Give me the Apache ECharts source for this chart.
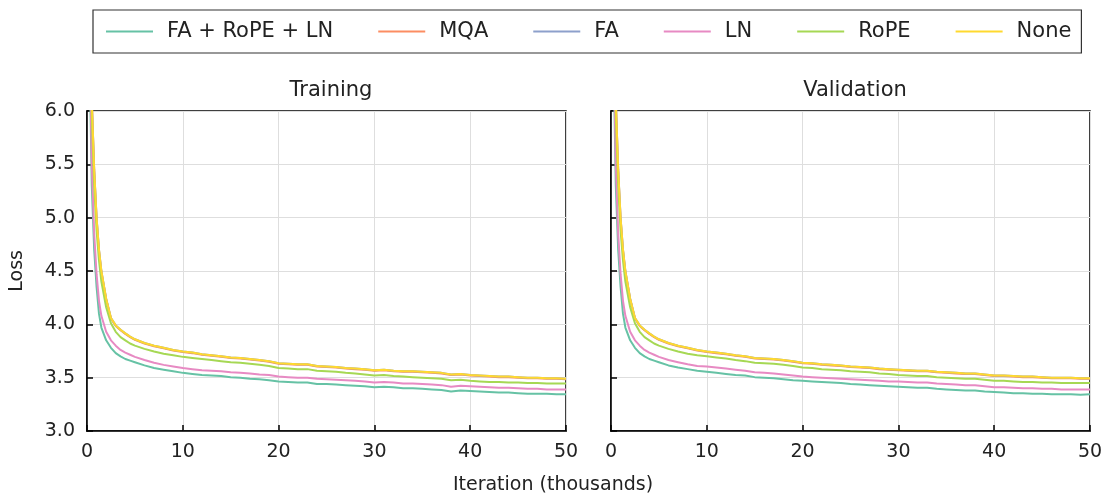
<!DOCTYPE html>
<html>
<head>
<meta charset="utf-8">
<script src="https://cdn.jsdelivr.net/npm/echarts@6/dist/echarts.min.js"></script>
<style>
  html, body { margin: 0; padding: 0; background: #fff; }
  #chart { width: 1106px; height: 498px; }
</style>
</head>
<body>
<div id="chart"></div>
<script>
// iteration, thousands
const iters = [0, 0.25, 0.5, 0.75, 1, 1.25, 1.5, 2, 2.5, 3, 3.5, 4, 4.5, 5,
  6, 7, 8, 9, 10, 11, 12, 13, 14, 15, 16, 17, 18, 19, 20,
  21, 22, 23, 24, 25, 26, 27, 28, 29, 30, 31, 32, 33, 34, 35,
  36, 37, 38, 39, 40, 41, 42, 43, 44, 45, 46, 47, 48, 49, 50];

const seriesNames = ['FA + RoPE + LN', 'MQA', 'FA', 'LN', 'RoPE', 'None'];
const colors = ['#66c2a5', '#fc8d62', '#8da0cb', '#e78ac3', '#a6d854', '#ffd92f'];
const yTicks = [3.0, 3.5, 4.0, 4.5, 5.0, 5.5, 6.0];
const xTicks = [0, 10, 20, 30, 40, 50];

// training loss
const allTrain = [9.6, 6.6, 5.3, 4.7, 4.35, 4.1, 3.97, 3.85, 3.78, 3.73, 3.70, 3.675, 3.66, 3.645,
  3.615, 3.59, 3.575, 3.56, 3.545,
  3.535, 3.525, 3.52, 3.515, 3.505, 3.50, 3.49, 3.485, 3.475, 3.465,
  3.46, 3.455, 3.455, 3.44, 3.44, 3.435, 3.43, 3.425, 3.42, 3.41,
  3.415, 3.41, 3.40, 3.40, 3.395, 3.39, 3.385, 3.37, 3.38, 3.375,
  3.37, 3.365, 3.36, 3.36, 3.355, 3.35, 3.35, 3.35, 3.345, 3.345];
const mqaTrain = [10.4, 7.48, 6.09, 5.44, 4.99, 4.69, 4.49, 4.235, 4.055, 3.985, 3.945, 3.91, 3.88, 3.855,
  3.82, 3.795, 3.775, 3.755, 3.74,
  3.73, 3.715, 3.705, 3.695, 3.685, 3.68, 3.67, 3.66, 3.65, 3.63,
  3.625, 3.62, 3.62, 3.605, 3.60, 3.595, 3.585, 3.58, 3.575, 3.565,
  3.57, 3.56, 3.555, 3.555, 3.55, 3.545, 3.54, 3.525, 3.53, 3.52,
  3.515, 3.51, 3.505, 3.505, 3.50, 3.495, 3.495, 3.49, 3.49, 3.485];
const faTrain = [10.4, 7.49, 6.1, 5.45, 5.0, 4.7, 4.5, 4.24, 4.06, 3.99, 3.95, 3.915, 3.885, 3.86,
  3.825, 3.80, 3.78, 3.76, 3.745,
  3.735, 3.72, 3.71, 3.70, 3.69, 3.685, 3.675, 3.665, 3.655, 3.635,
  3.63, 3.625, 3.625, 3.61, 3.605, 3.60, 3.59, 3.585, 3.58, 3.57,
  3.575, 3.565, 3.56, 3.56, 3.555, 3.55, 3.545, 3.53, 3.535, 3.525,
  3.52, 3.515, 3.51, 3.51, 3.505, 3.50, 3.50, 3.495, 3.495, 3.49];
const lnTrain = [9.8, 6.8, 5.5, 4.85, 4.47, 4.22, 4.08, 3.93, 3.85, 3.80, 3.76, 3.735, 3.715, 3.695,
  3.665, 3.64, 3.62, 3.605, 3.59,
  3.58, 3.57, 3.565, 3.56, 3.55, 3.545, 3.54, 3.53, 3.525, 3.51,
  3.505, 3.50, 3.50, 3.49, 3.485, 3.48, 3.475, 3.47, 3.465, 3.455,
  3.46, 3.455, 3.445, 3.445, 3.44, 3.435, 3.43, 3.415, 3.425, 3.42,
  3.415, 3.41, 3.405, 3.405, 3.40, 3.395, 3.395, 3.39, 3.39, 3.39];
const ropeTrain = [10.2, 7.3, 5.95, 5.3, 4.88, 4.6, 4.4, 4.16, 4.01, 3.93, 3.88, 3.85, 3.82, 3.80,
  3.77, 3.745, 3.725, 3.71, 3.695,
  3.685, 3.675, 3.665, 3.655, 3.645, 3.64, 3.63, 3.62, 3.61, 3.59,
  3.585, 3.58, 3.58, 3.565, 3.56, 3.555, 3.545, 3.54, 3.53, 3.52,
  3.525, 3.515, 3.51, 3.505, 3.50, 3.495, 3.49, 3.475, 3.48, 3.47,
  3.465, 3.46, 3.46, 3.455, 3.455, 3.45, 3.45, 3.445, 3.445, 3.445];
const noneTrain = [10.4, 7.5, 6.1, 5.45, 5.0, 4.7, 4.5, 4.24, 4.06, 3.99, 3.95, 3.915, 3.885, 3.86,
  3.825, 3.80, 3.78, 3.76, 3.745,
  3.735, 3.72, 3.71, 3.70, 3.69, 3.685, 3.675, 3.665, 3.655, 3.635,
  3.63, 3.625, 3.625, 3.61, 3.605, 3.60, 3.59, 3.585, 3.58, 3.57,
  3.575, 3.565, 3.56, 3.56, 3.555, 3.55, 3.545, 3.53, 3.535, 3.525,
  3.52, 3.515, 3.51, 3.51, 3.505, 3.50, 3.50, 3.495, 3.495, 3.49];

// validation loss
const allVal = [9.6, 6.6, 5.3, 4.7, 4.35, 4.1, 3.97, 3.85, 3.78, 3.73, 3.70, 3.675, 3.66, 3.645,
  3.615, 3.595, 3.58, 3.565, 3.555,
  3.545, 3.535, 3.525, 3.52, 3.505, 3.50, 3.495, 3.485, 3.475, 3.47,
  3.465, 3.46, 3.455, 3.45, 3.44, 3.435, 3.43, 3.425, 3.42, 3.415,
  3.41, 3.405, 3.405, 3.395, 3.39, 3.385, 3.38, 3.38, 3.37, 3.365,
  3.36, 3.355, 3.355, 3.35, 3.35, 3.345, 3.345, 3.345, 3.34, 3.345];
const mqaVal = [10.4, 7.48, 6.09, 5.44, 4.99, 4.69, 4.49, 4.235, 4.055, 3.985, 3.945, 3.91, 3.88, 3.855,
  3.82, 3.795, 3.775, 3.755, 3.74,
  3.73, 3.72, 3.705, 3.695, 3.68, 3.675, 3.67, 3.66, 3.65, 3.635,
  3.63, 3.62, 3.615, 3.61, 3.60, 3.595, 3.59, 3.58, 3.575, 3.57,
  3.565, 3.56, 3.56, 3.55, 3.545, 3.54, 3.535, 3.535, 3.525, 3.515,
  3.515, 3.51, 3.505, 3.505, 3.50, 3.495, 3.495, 3.495, 3.49, 3.49];
const faVal = [10.4, 7.49, 6.1, 5.45, 5.0, 4.7, 4.5, 4.24, 4.06, 3.99, 3.95, 3.915, 3.885, 3.86,
  3.825, 3.80, 3.78, 3.76, 3.745,
  3.735, 3.725, 3.71, 3.70, 3.685, 3.68, 3.675, 3.665, 3.655, 3.64,
  3.635, 3.625, 3.62, 3.615, 3.605, 3.60, 3.595, 3.585, 3.58, 3.575,
  3.57, 3.565, 3.565, 3.555, 3.55, 3.545, 3.54, 3.54, 3.53, 3.52,
  3.52, 3.515, 3.51, 3.51, 3.505, 3.50, 3.50, 3.50, 3.495, 3.495];
const lnVal = [9.8, 6.8, 5.5, 4.85, 4.47, 4.22, 4.08, 3.93, 3.85, 3.80, 3.76, 3.735, 3.715, 3.695,
  3.665, 3.645, 3.625, 3.61, 3.605,
  3.595, 3.585, 3.575, 3.565, 3.55, 3.545, 3.54, 3.53, 3.52, 3.51,
  3.505, 3.50, 3.495, 3.49, 3.485, 3.48, 3.475, 3.47, 3.465, 3.465,
  3.46, 3.455, 3.455, 3.445, 3.44, 3.435, 3.43, 3.43, 3.42, 3.41,
  3.41, 3.405, 3.40, 3.40, 3.395, 3.395, 3.39, 3.39, 3.39, 3.39];
const ropeVal = [10.2, 7.3, 5.95, 5.3, 4.88, 4.6, 4.4, 4.16, 4.01, 3.93, 3.88, 3.85, 3.82, 3.80,
  3.77, 3.745, 3.725, 3.71, 3.70,
  3.69, 3.68, 3.665, 3.655, 3.64, 3.635, 3.63, 3.62, 3.61, 3.595,
  3.59, 3.58, 3.575, 3.57, 3.56, 3.555, 3.55, 3.54, 3.535, 3.525,
  3.52, 3.515, 3.515, 3.505, 3.50, 3.495, 3.49, 3.49, 3.48, 3.47,
  3.47, 3.465, 3.46, 3.46, 3.455, 3.455, 3.45, 3.45, 3.45, 3.45];
const noneVal = [10.4, 7.5, 6.1, 5.45, 5.0, 4.7, 4.5, 4.24, 4.06, 3.99, 3.95, 3.915, 3.885, 3.86,
  3.825, 3.80, 3.78, 3.76, 3.745,
  3.735, 3.725, 3.71, 3.70, 3.685, 3.68, 3.675, 3.665, 3.655, 3.64,
  3.635, 3.625, 3.62, 3.615, 3.605, 3.60, 3.595, 3.585, 3.58, 3.575,
  3.57, 3.565, 3.565, 3.555, 3.55, 3.545, 3.54, 3.54, 3.53, 3.52,
  3.52, 3.515, 3.51, 3.51, 3.505, 3.50, 3.50, 3.50, 3.495, 3.495];

const trainSets = [allTrain, mqaTrain, faTrain, lnTrain, ropeTrain, noneTrain];
const valSets = [allVal, mqaVal, faVal, lnVal, ropeVal, noneVal];

const FONT = 'DejaVu Sans';
const textColor = '#222';

const chart = echarts.init(document.getElementById('chart'), null, { renderer: 'canvas' });

const pair = (vals) => iters.map((x, i) => [x, vals[i]]);

const makeX = (gridIndex) => ({
  type: 'value', gridIndex, min: xTicks[0], max: xTicks[xTicks.length - 1], interval: 10,
  axisLine: { show: true, lineStyle: { color: '#000', width: 1.5 } },
  axisTick: { show: true, inside: true, length: 6, lineStyle: { color: '#000', width: 1.5 } },
  axisLabel: { color: textColor, fontSize: 19, fontFamily: FONT, margin: 12 },
  splitLine: { show: true, lineStyle: { color: '#dedede', width: 1 } }
});

const makeY = (gridIndex, showLabels) => ({
  type: 'value', gridIndex, min: yTicks[0], max: yTicks[yTicks.length - 1], interval: 0.5,
  axisLine: { show: true, lineStyle: { color: '#000', width: 1.5 } },
  axisTick: { show: true, inside: true, length: 6, lineStyle: { color: '#000', width: 1.5 } },
  axisLabel: { show: showLabels, color: textColor, fontSize: 19, fontFamily: FONT, margin: 12,
    formatter: (v) => v.toFixed(1) },
  splitLine: { show: true, lineStyle: { color: '#dedede', width: 1 } }
});

const series = [];
[trainSets, valSets].forEach((sets, g) => {
  sets.forEach((vals, i) => {
    series.push({
      name: seriesNames[i], type: 'line', xAxisIndex: g, yAxisIndex: g,
      data: pair(vals), showSymbol: false, symbol: 'none', clip: true,
      lineStyle: { color: colors[i], width: 2 }, itemStyle: { color: colors[i] },
      animation: false
    });
  });
});

const option = {
  backgroundColor: '#fff',
  animation: false,
  color: colors,
  textStyle: { fontFamily: FONT },
  title: [
    { text: 'Training', left: 326, top: 75, textAlign: 'center',
      textStyle: { fontSize: 21, fontWeight: 'normal', color: textColor, fontFamily: FONT } },
    { text: 'Validation', left: 850, top: 75, textAlign: 'center',
      textStyle: { fontSize: 21, fontWeight: 'normal', color: textColor, fontFamily: FONT } }
  ],
  legend: {
    data: seriesNames, left: 93, top: 10,
    padding: [11, 10, 11, 13],
    itemWidth: 47, itemHeight: 2, itemGap: 45, icon: 'rect',
    borderColor: '#333', borderWidth: 1.2, borderRadius: 0,
    textStyle: { fontSize: 21, color: textColor, fontFamily: FONT, padding: [0, 0, 0, 9] }
  },
  grid: [
    { left: 87, top: 111, width: 479, height: 320, show: true, borderColor: '#000', borderWidth: 1.5, backgroundColor: 'transparent' },
    { left: 611, top: 111, width: 479, height: 320, show: true, borderColor: '#000', borderWidth: 1.5, backgroundColor: 'transparent' }
  ],
  xAxis: [makeX(0), makeX(1)],
  yAxis: [makeY(0, true), makeY(1, false)],
  graphic: [
    { type: 'text', left: 8, top: 250, rotation: Math.PI / 2,
      style: { text: 'Loss', fontSize: 19, fill: textColor, fontFamily: FONT } },
    { type: 'text', left: 'center', top: 476,
      style: { text: 'Iteration (thousands)', fontSize: 19, fill: textColor, fontFamily: FONT } }
  ],
  series
};

chart.setOption(option);
</script>
</body>
</html>
